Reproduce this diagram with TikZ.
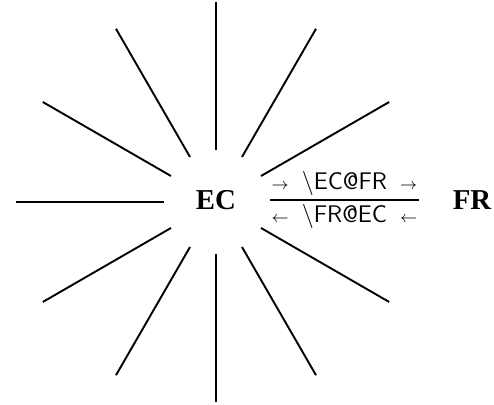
\documentclass[tikz,border=0pt]{standalone}
\usepackage{fontspec}
\setmainfont{Liberation Serif}
\usetikzlibrary{positioning}

\begin{document}
\begin{tikzpicture}[x=0.5pt,y=0.5pt,
    ray/.style={line width=0.95pt},
    unit/.style={font=\Large\bfseries, inner sep=0pt},
    duty/.style={font=\fontsize{12}{14}\selectfont\sffamily, inner sep=2pt}]
  \useasboundingbox (-216,-203) rectangle (278,202);
  % rays round the unit
  \foreach \a in {30,60,...,330}
    \draw[ray] (\a:52) -- (\a:200);
  \node[unit] (EC) at (0,2) {EC};
  \node[unit] (FR) at (256,2) {FR};
  \draw[ray, shorten <=17pt, shorten >=16.5pt] (EC) -- (FR)
    node[duty, midway, above] {$\scriptstyle\rightarrow$\hspace{0.55em}\textbackslash EC@FR\hspace{0.55em}$\scriptstyle\rightarrow$}
    node[duty, midway, below] {$\scriptstyle\leftarrow$\hspace{0.55em}\textbackslash FR@EC\hspace{0.55em}$\scriptstyle\leftarrow$};
\end{tikzpicture}
\end{document}
